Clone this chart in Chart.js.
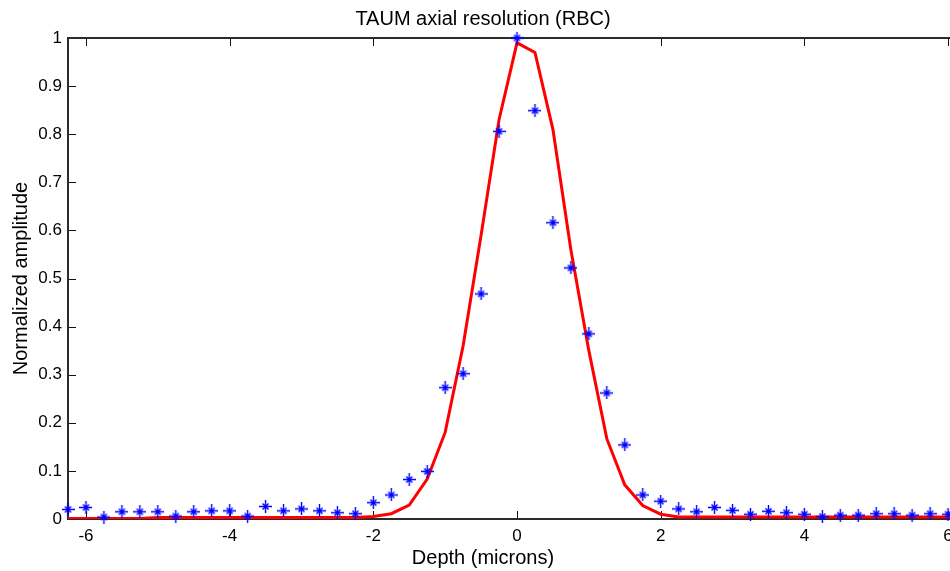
<!DOCTYPE html>
<html lang="en">
<head>
<meta charset="UTF-8">
<title>TAUM axial resolution (RBC)</title>
<script src="https://cdn.jsdelivr.net/npm/chart.js"></script>
<style>
  html, body { margin: 0; padding: 0; background: #fff; overflow: hidden; }
  canvas { display: block; }
</style>
</head>
<body>
<canvas id="resChart" width="1016" height="571"></canvas>
<script>
// depth positions in microns, 0.25 um steps
const depth = [
  -6.25, -6.0, -5.75, -5.5, -5.25, -5.0, -4.75, -4.5, -4.25, -4.0, -3.75, -3.5, -3.25,
  -3.0, -2.75, -2.5, -2.25, -2.0, -1.75, -1.5, -1.25, -1.0, -0.75, -0.5, -0.25,
  0.0, 0.25, 0.5, 0.75, 1.0, 1.25, 1.5, 1.75, 2.0, 2.25, 2.5, 2.75, 3.0, 3.25,
  3.5, 3.75, 4.0, 4.25, 4.5, 4.75, 5.0, 5.25, 5.5, 5.75, 6.0, 6.25
];

// measured RBC profile (blue stars)
const measured = [
  0.020, 0.024, 0.004, 0.015, 0.015, 0.015, 0.006, 0.015, 0.017, 0.017, 0.006, 0.026, 0.017,
  0.021, 0.017, 0.013, 0.011, 0.034, 0.050, 0.082, 0.099, 0.273, 0.302, 0.468, 0.806,
  1.000, 0.849, 0.616, 0.522, 0.385, 0.262, 0.154, 0.050, 0.037, 0.021, 0.015, 0.024, 0.018, 0.010,
  0.016, 0.013, 0.010, 0.005, 0.008, 0.008, 0.011, 0.011, 0.008, 0.011, 0.010, 0.008
];

// modelled axial response (red line)
const modelled = [
  0.001, 0.001, 0.001, 0.001, 0.001, 0.003, 0.003, 0.003, 0.003, 0.003, 0.003, 0.003, 0.003,
  0.003, 0.003, 0.003, 0.003, 0.005, 0.011, 0.029, 0.083, 0.180, 0.360, 0.590, 0.830,
  0.990, 0.970, 0.810, 0.560, 0.350, 0.167, 0.071, 0.028, 0.010, 0.004, 0.004, 0.004, 0.004, 0.004,
  0.004, 0.004, 0.004, 0.004, 0.004, 0.004, 0.004, 0.004, 0.004, 0.004, 0.004, 0.004
];

const depthTicks = [-6, -4, -2, 0, 2, 4, 6];
const depthTickLabels = ['-6', '-4', '-2', '0', '2', '4', '6'];
const ampTicks = [0, 0.1, 0.2, 0.3, 0.4, 0.5, 0.6, 0.7, 0.8, 0.9, 1];
const ampTickLabels = ['0', '0.1', '0.2', '0.3', '0.4', '0.5', '0.6', '0.7', '0.8', '0.9', '1'];

const FONT = '"Liberation Sans", Arial, Helvetica, sans-serif';
Chart.defaults.color = '#000';
Chart.defaults.font.family = FONT;

// asterisk marker: long + arms, short diagonal arms
function asteriskMarker(color) {
  const c = document.createElement('canvas');
  c.width = 13; c.height = 13;
  const g = c.getContext('2d');
  g.strokeStyle = color;
  g.lineWidth = 1.4;
  g.beginPath();
  g.moveTo(0, 6.5); g.lineTo(13, 6.5);
  g.moveTo(6.5, 0); g.lineTo(6.5, 13);
  g.moveTo(3.5, 3.5); g.lineTo(9.5, 9.5);
  g.moveTo(9.5, 3.5); g.lineTo(3.5, 9.5);
  g.stroke();
  g.fillStyle = color;
  g.fillRect(5, 5, 3, 3);
  return c;
}

// box around the plot with tick marks pointing inwards on all four sides
const boxedAxes = {
  id: 'boxedAxes',
  beforeDatasetsDraw(chart) {
    const { ctx, chartArea: a, scales: { x, y } } = chart;
    const len = 8;
    ctx.save();
    ctx.strokeStyle = '#111';
    ctx.lineWidth = 1;
    ctx.beginPath();
    x.ticks.forEach(t => {
      const px = Math.round(x.getPixelForValue(t.value)) + 0.5;
      ctx.moveTo(px, a.bottom); ctx.lineTo(px, a.bottom - len);
      ctx.moveTo(px, a.top); ctx.lineTo(px, a.top + len);
    });
    y.ticks.forEach(t => {
      const py = Math.round(y.getPixelForValue(t.value)) + 0.5;
      ctx.moveTo(a.left, py); ctx.lineTo(a.left + len, py);
      ctx.moveTo(a.right, py); ctx.lineTo(a.right - len, py);
    });
    ctx.stroke();
    ctx.lineWidth = 2;
    ctx.strokeStyle = '#2b2b2b';
    ctx.strokeRect(a.left, a.top, a.right - a.left, a.bottom - a.top);
    ctx.restore();
  }
};

const toPoints = values => depth.map((d, i) => ({ x: d, y: values[i] }));

new Chart(document.getElementById('resChart'), {
  type: 'scatter',
  data: {
    datasets: [
      {
        label: 'RBC',
        data: toPoints(measured),
        showLine: false,
        pointStyle: asteriskMarker('#0000ff'),
        pointRadius: 6,
        borderColor: '#0000ff',
        backgroundColor: '#0000ff',
        clip: false
      },
      {
        label: 'Model',
        data: toPoints(modelled),
        showLine: true,
        pointRadius: 0,
        borderColor: '#ff0000',
        borderWidth: 3,
        tension: 0
      }
    ]
  },
  options: {
    responsive: false,
    animation: false,
    events: [],
    layout: { padding: { left: 0, right: 50, top: 0, bottom: 0 } },
    plugins: {
      legend: { display: false },
      tooltip: { enabled: false },
      title: {
        display: true,
        text: 'TAUM axial resolution (RBC)',
        font: { size: 20, weight: 'normal' },
        padding: { top: 7, bottom: 7 }
      },
      subtitle: {
        display: true,
        position: 'bottom',
        text: 'Depth (microns)',
        font: { size: 20 },
        padding: { top: 1, bottom: 1 }
      }
    },
    scales: {
      x: {
        type: 'linear',
        min: -6.25,
        max: 6.25,
        grid: { display: false, drawTicks: false },
        border: { display: false },
        afterBuildTicks: s => { s.ticks = depthTicks.map(v => ({ value: v })); },
        afterFit: s => { s.height = 26; },
        ticks: {
          padding: 7,
          maxRotation: 0,
          font: { size: 17 },
          callback: (v, i) => depthTickLabels[i]
        }
      },
      y: {
        min: 0,
        max: 1,
        grid: { display: false, drawTicks: false },
        border: { display: false },
        afterBuildTicks: s => { s.ticks = ampTicks.map(v => ({ value: v })); },
        afterFit: s => { s.width = 68; },
        ticks: {
          padding: 6,
          font: { size: 17 },
          callback: (v, i) => ampTickLabels[i]
        },
        title: {
          display: true,
          text: 'Normalized amplitude',
          font: { size: 20 },
          padding: { top: 9, bottom: 0 }
        }
      }
    }
  },
  plugins: [boxedAxes]
});
</script>
</body>
</html>
